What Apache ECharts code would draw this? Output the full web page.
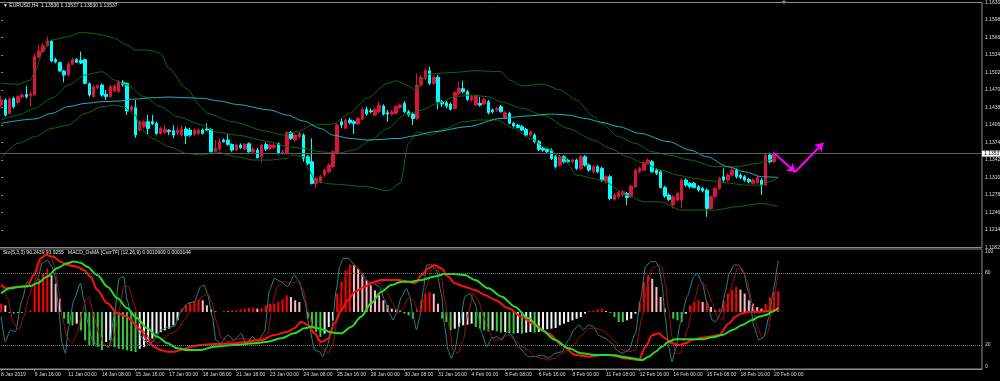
<!DOCTYPE html>
<html><head><meta charset="utf-8">
<script src="https://cdn.jsdelivr.net/npm/echarts/dist/echarts.min.js"></script>
<style>html,body{margin:0;padding:0;background:#000;overflow:hidden}#c{width:1000px;height:381px}</style>
</head><body><div id="c"></div>
<script>
// ---------- DATA (EURUSD H4) ----------
const opens = [1.14425,1.14517,1.14273,1.14547,1.14474,1.14571,1.14620,1.14596,1.14608,1.15303,
1.15401,1.15511,1.15596,1.15255,1.15200,1.15047,1.14974,1.15169,1.15261,1.15242,
1.15255,1.14815,1.14578,1.14742,1.14791,1.14620,1.14578,1.14681,1.14669,1.14840,
1.14822,1.14334,1.14376,1.13968,1.14029,1.14120,1.14120,1.14090,1.13907,1.13925,
1.13961,1.13955,1.13919,1.13876,1.13986,1.13968,1.13888,1.13907,1.13968,1.13986,
1.13980,1.13583,1.13620,1.13785,1.13785,1.13705,1.13602,1.13693,1.13620,1.13717,
1.13571,1.13602,1.13480,1.13705,1.13632,1.13644,1.13717,1.13541,1.13541,1.13925,
1.13785,1.13846,1.13876,1.13480,1.13388,1.12992,1.13022,1.13144,1.13205,1.13297,
1.13541,1.14120,1.13998,1.14151,1.14120,1.14077,1.14163,1.14346,1.14321,1.14242,
1.14303,1.14407,1.14285,1.14260,1.14273,1.14382,1.14455,1.14303,1.14260,1.14181,
1.14791,1.14913,1.15053,1.14822,1.14931,1.14486,1.14468,1.14443,1.14364,1.14639,
1.14724,1.14669,1.14517,1.14425,1.14455,1.14443,1.14486,1.14334,1.14334,1.14395,
1.14181,1.14273,1.14090,1.14059,1.14029,1.13980,1.13876,1.13876,1.13754,1.13632,
1.13614,1.13602,1.13480,1.13327,1.13480,1.13419,1.13388,1.13419,1.13266,1.13480,
1.13327,1.13205,1.13297,1.13266,1.13022,1.13114,1.12699,1.12748,1.12778,1.12809,
1.12748,1.12931,1.13205,1.13236,1.13358,1.13388,1.13236,1.13205,1.12918,1.12778,
1.12595,1.12687,1.12687,1.13053,1.12992,1.12992,1.12931,1.12900,1.12870,1.12534,
1.12748,1.12900,1.13114,1.13053,1.13144,1.13236,1.13144,1.13114,1.13065,1.12992,
1.13004,1.13053,1.12961,1.13510,1.13388,1.13536];
const highs = [1.14596,1.14547,1.14578,1.14578,1.14608,1.14639,1.14779,1.14669,1.15371,1.15523,
1.15553,1.15676,1.15614,1.15291,1.15218,1.15066,1.15218,1.15291,1.15279,1.15401,
1.15279,1.14840,1.14791,1.14803,1.14822,1.14700,1.14791,1.14803,1.14883,1.14883,
1.14840,1.14425,1.14517,1.14151,1.14145,1.14242,1.14242,1.14120,1.14029,1.14059,
1.13986,1.14059,1.14029,1.14059,1.14029,1.14010,1.13998,1.13998,1.13998,1.14090,
1.13998,1.13785,1.13815,1.13815,1.13888,1.13724,1.13724,1.13724,1.13730,1.13742,
1.13663,1.13644,1.13724,1.13742,1.13724,1.13724,1.13742,1.13602,1.13949,1.13949,
1.13907,1.13937,1.13907,1.13510,1.13815,1.13114,1.13144,1.13266,1.13358,1.13602,
1.14090,1.14181,1.14181,1.14193,1.14151,1.14212,1.14376,1.14395,1.14364,1.14376,
1.14486,1.14437,1.14334,1.14334,1.14425,1.14455,1.14498,1.14334,1.14291,1.15005,
1.14974,1.15096,1.15126,1.14974,1.14974,1.14517,1.14498,1.14474,1.14681,1.14852,
1.14870,1.14700,1.14608,1.14620,1.14578,1.14559,1.14517,1.14364,1.14395,1.14425,
1.14315,1.14303,1.14120,1.14083,1.14059,1.14010,1.13968,1.13907,1.13785,1.13663,
1.13644,1.13632,1.13510,1.13510,1.13510,1.13449,1.13449,1.13449,1.13510,1.13510,
1.13358,1.13327,1.13327,1.13297,1.13144,1.13144,1.12809,1.12851,1.12870,1.12839,
1.12973,1.13266,1.13297,1.13401,1.13449,1.13419,1.13266,1.13236,1.12949,1.12809,
1.12778,1.12839,1.13083,1.13083,1.13022,1.13022,1.12961,1.12931,1.12900,1.12778,
1.12931,1.13114,1.13266,1.13175,1.13266,1.13266,1.13175,1.13144,1.13095,1.13083,
1.13132,1.13083,1.13541,1.13553,1.13571,1.13537];
const lows = [1.14395,1.14212,1.14254,1.14364,1.14425,1.14547,1.14547,1.14395,1.14596,1.15279,
1.15371,1.15492,1.15206,1.15188,1.15035,1.14840,1.14944,1.15157,1.15194,1.15175,
1.14803,1.14578,1.14559,1.14718,1.14578,1.14517,1.14559,1.14657,1.14651,1.14760,
1.14242,1.14303,1.13827,1.13937,1.13998,1.13888,1.14059,1.13876,1.13876,1.13903,
1.13876,1.13815,1.13876,1.13846,1.13711,1.13846,1.13864,1.13876,1.13888,1.13949,
1.13541,1.13559,1.13583,1.13742,1.13681,1.13571,1.13583,1.13620,1.13602,1.13553,
1.13541,1.13449,1.13376,1.13583,1.13602,1.13620,1.13521,1.13510,1.13521,1.13785,
1.13754,1.13815,1.13388,1.13327,1.12973,1.12900,1.12992,1.13114,1.13175,1.13278,
1.13521,1.13998,1.13986,1.14071,1.13894,1.14059,1.14145,1.14230,1.14273,1.14224,
1.14273,1.14230,1.14120,1.14230,1.14254,1.14352,1.14273,1.14212,1.14059,1.14151,
1.14760,1.14883,1.14791,1.14791,1.14346,1.14395,1.14364,1.14327,1.14346,1.14608,
1.14639,1.14498,1.14486,1.14407,1.14395,1.14425,1.14254,1.14273,1.14303,1.14285,
1.14163,1.14071,1.14016,1.13998,1.13949,1.13846,1.13846,1.13724,1.13583,1.13571,
1.13541,1.13419,1.13266,1.13297,1.13358,1.13358,1.13358,1.13236,1.13236,1.13297,
1.13205,1.13175,1.13175,1.13022,1.12992,1.12687,1.12669,1.12717,1.12748,1.12595,
1.12729,1.12913,1.13175,1.13217,1.13339,1.13187,1.13144,1.12900,1.12729,1.12669,
1.12534,1.12669,1.12546,1.12931,1.12900,1.12900,1.12839,1.12827,1.12382,1.12504,
1.12717,1.12870,1.13022,1.13022,1.13114,1.13083,1.13071,1.13022,1.12992,1.12973,
1.12985,1.12778,1.12943,1.13358,1.13370,1.13530];
const closes = [1.14517,1.14242,1.14535,1.14395,1.14578,1.14608,1.14578,1.14626,1.15310,1.15413,
1.15511,1.15596,1.15230,1.15218,1.15047,1.14974,1.15169,1.15255,1.15206,1.15194,
1.14822,1.14608,1.14760,1.14779,1.14608,1.14578,1.14760,1.14773,1.14852,1.14803,
1.14315,1.14395,1.13876,1.14120,1.14120,1.13998,1.14083,1.13907,1.13998,1.13986,
1.13937,1.13876,1.13968,1.13986,1.13864,1.13876,1.13968,1.13968,1.13907,1.13968,
1.13571,1.13632,1.13761,1.13754,1.13705,1.13602,1.13693,1.13644,1.13705,1.13571,
1.13620,1.13461,1.13693,1.13620,1.13693,1.13693,1.13541,1.13571,1.13925,1.13815,
1.13876,1.13907,1.13449,1.13358,1.12992,1.13083,1.13114,1.13236,1.13327,1.13571,
1.14059,1.14059,1.14151,1.14102,1.14090,1.14181,1.14346,1.14260,1.14303,1.14346,
1.14425,1.14260,1.14260,1.14303,1.14395,1.14425,1.14303,1.14242,1.14181,1.14791,
1.14931,1.15053,1.14822,1.14931,1.14486,1.14443,1.14407,1.14346,1.14651,1.14730,
1.14669,1.14529,1.14578,1.14590,1.14425,1.14529,1.14285,1.14303,1.14364,1.14303,
1.14285,1.14090,1.14041,1.14016,1.13968,1.13876,1.13937,1.13754,1.13614,1.13602,
1.13571,1.13449,1.13297,1.13480,1.13388,1.13388,1.13419,1.13266,1.13480,1.13327,
1.13236,1.13297,1.13205,1.13053,1.13114,1.12717,1.12778,1.12821,1.12839,1.12735,
1.12943,1.13236,1.13266,1.13370,1.13419,1.13205,1.13175,1.12918,1.12760,1.12699,
1.12748,1.12809,1.13053,1.12961,1.12931,1.12918,1.12870,1.12857,1.12534,1.12748,
1.12900,1.13083,1.13053,1.13144,1.13236,1.13114,1.13102,1.13053,1.13022,1.13053,
1.13102,1.12961,1.13510,1.13388,1.13536,1.13537];

// indicator lines, [bar, value]
const bbUpper = [[0,1.14822],[4,1.14803],[7,1.14883],[8,1.15035],[10,1.15401],[12,1.15614],[16,1.15676],[19,1.15755],[22,1.15737],[24,1.15706],[27,1.15645],[30,1.15523],[32,1.15432],[35,1.15432],[38,1.15371],[40,1.15096],[44,1.14730],[48,1.14364],[49,1.14273],[55,1.14120],[63,1.13949],[67,1.13876],[71,1.13949],[74,1.14059],[79,1.14077],[83,1.14273],[87,1.14547],[92,1.14822],[94,1.14870],[97,1.14773],[99,1.14669],[100,1.14883],[102,1.14992],[107,1.15017],[113,1.15053],[119,1.15035],[121,1.14883],[124,1.14773],[129,1.14809],[133,1.14700],[137,1.14517],[141,1.14212],[143,1.14090],[147,1.13846],[151,1.13724],[155,1.13571],[159,1.13510],[164,1.13419],[170,1.13297],[175,1.13297],[180,1.13358],[183,1.13419],[185,1.13541]];
const bbMiddle = [[0,1.14151],[4,1.14242],[8,1.14364],[12,1.14547],[16,1.14791],[20,1.14974],[24,1.15035],[27,1.14883],[30,1.14791],[34,1.14578],[38,1.14395],[42,1.14212],[48,1.14059],[51,1.13937],[56,1.13876],[64,1.13754],[68,1.13663],[72,1.13632],[76,1.13571],[80,1.13541],[84,1.13602],[88,1.13785],[92,1.13998],[96,1.14242],[100,1.14334],[104,1.14455],[108,1.14578],[112,1.14608],[116,1.14578],[119,1.14486],[124,1.14364],[129,1.14242],[135,1.13998],[141,1.13785],[145,1.13632],[149,1.13480],[153,1.13358],[157,1.13236],[161,1.13144],[165,1.13083],[169,1.13040],[173,1.12998],[177,1.12961],[181,1.12961],[183,1.13022],[185,1.13095]];
const bbLower = [[0,1.13449],[4,1.13724],[8,1.13846],[12,1.13998],[16,1.14059],[20,1.14273],[24,1.14395],[27,1.14425],[29,1.14395],[32,1.14242],[33,1.13998],[36,1.13815],[40,1.13663],[44,1.13541],[48,1.13510],[51,1.13571],[56,1.13480],[60,1.13419],[64,1.13419],[68,1.13449],[69,1.13510],[72,1.13480],[73,1.13266],[75,1.13022],[79,1.12979],[87,1.12931],[92,1.12857],[95,1.12992],[97,1.13724],[99,1.13937],[102,1.13876],[106,1.13998],[110,1.14120],[114,1.14151],[118,1.14151],[122,1.13998],[126,1.13815],[130,1.13632],[134,1.13449],[137,1.13144],[143,1.13053],[149,1.12778],[153,1.12656],[157,1.12656],[162,1.12504],[170,1.12504],[175,1.12565],[181,1.12626],[185,1.12565]];
const maLine = [[0,1.14090],[8,1.14169],[12,1.14273],[16,1.14395],[20,1.14455],[24,1.14486],[28,1.14498],[32,1.14535],[36,1.14559],[40,1.14571],[44,1.14559],[48,1.14547],[52,1.14498],[56,1.14437],[64,1.14334],[68,1.14242],[72,1.14132],[76,1.13998],[79,1.13876],[83,1.13815],[87,1.13785],[95,1.13815],[98,1.13858],[103,1.13937],[111,1.14029],[119,1.14181],[125,1.14224],[131,1.14260],[135,1.14242],[139,1.14181],[143,1.14108],[147,1.14029],[152,1.13907],[159,1.13754],[164,1.13602],[168,1.13480],[173,1.13297],[177,1.13205],[181,1.13114],[185,1.13102]];

// MACD_OsMA histogram, one value per bar
const osma = [0.000125,0.0001,-0.000015,-0.000025,-0.00001,-0.000015,0.00001,0.000025,0.0004,0.0005,
0.000575,0.00065,0.00055,0.000425,0.0002,-0.0001,-0.000175,-0.0002,-0.000175,-0.000275,
-0.000425,-0.0005,-0.0005,-0.000525,-0.000575,-0.00045,-0.000425,-0.000525,-0.00055,-0.00056,
-0.000575,-0.00059,-0.0006,-0.00055,-0.000525,-0.00045,-0.0004,-0.000325,-0.0003,-0.000275,
-0.00025,-0.0002,-0.000125,0.00005,0.0001,0.00014,0.00016,0.00019,0.000175,0.0001,
0.00004,0.00001,0,0.000015,0.00001,0.000025,0.000025,0.00004,0.00005,0.00006,
0.00007,0.00005,0.00006,0.0001,0.000125,0.000125,0.00015,0.00019,0.00025,0.000225,
0.000175,0.00015,0,-0.0001,-0.000225,-0.0003,-0.000375,-0.000325,-0.000225,-0.000125,
0.000275,0.00045,0.000625,0.000715,0.0007,0.00065,0.000575,0.000475,0.0004,0.000325,
0.00025,0.000175,0.0001,0.00005,0.000035,0.000025,-0.000025,-0.00005,-0.0001,0.00005,
0.000175,0.000275,0.0003,0.000275,0.000125,-0.0001,-0.00015,-0.000275,-0.00025,-0.000225,
-0.0002,-0.00019,-0.000175,-0.000225,-0.00025,-0.000275,-0.00029,-0.000275,-0.00029,-0.00031,
-0.0003,-0.000315,-0.000325,-0.000315,-0.000325,-0.00031,-0.0003,-0.00031,-0.0003,-0.00029,
-0.00026,-0.00025,-0.00024,-0.0002,-0.000175,-0.00015,-0.000125,-0.0001,-0.000075,-0.000025,
0.000015,0.000025,0.00004,0.00005,0.000015,-0.000015,-0.000075,-0.00015,-0.00015,-0.000125,
-0.0001,-0.000025,0.00015,0.00045,0.00055,0.0005,0.000375,0.000225,0.00005,0,
-0.0001,-0.000125,-0.00015,-0.000025,0.0001,0.00015,0.000175,0.00015,0.00015,0.000075,
0.000025,0.00005,0.000175,0.000275,0.000325,0.000375,0.000335,0.000275,0.000175,0.000125,
0.000075,0.00005,0.000125,0.000225,0.0003,0.000314];

const stochMain = [[0,43.6],[1,22.8],[2.2,32.5],[3.4,31.1],[5,57.5],[6.2,72.8],[7.4,68.6],[8.6,74.2],[9.8,88.1],[11,90.8],[12.1,85.3],[12.9,76.9],[13.7,49.2],[14.5,21.4],[15.3,13.1],[16.1,35.3],[17.3,57.5],[18.9,71.4],[19.7,57.5],[20.7,38.1],[21.7,24.2],[22.9,20],[24.5,20],[25.7,18.6],[26.9,43.6],[28.1,75.6],[29.2,76.9],[30,57.5],[31.2,40.8],[32.4,32.5],[34,24.2],[35.2,20],[36.4,24.2],[38,32.5],[39.6,34.7],[41.2,35.3],[42.8,47.8],[44.4,54.7],[46,56.1],[47.5,68.6],[48.3,70],[49.1,63.1],[50.3,43.6],[51.1,24.2],[52.3,21.4],[53.9,28.3],[55.5,24.2],[57.1,29.7],[58.3,21.4],[59.9,26.9],[61.1,22.8],[62.7,31.1],[63.9,65.8],[65.1,75.6],[66.6,72.8],[68.2,68.6],[69.8,78.3],[71,72.8],[72.2,57.5],[73.4,35.3],[74.6,15.8],[75.8,14.4],[76.6,10.3],[77.4,17.2],[78.6,30],[79.8,65.8],[80.6,85.3],[81.4,92.2],[82.6,92.2],[83.8,88.1],[84.9,83.9],[86.1,78.3],[87.3,72.8],[88.5,71.4],[90.1,68.6],[91.3,57.5],[92.5,46.4],[93.3,40.8],[94.1,46.4],[95.3,60.3],[96.5,67.2],[97.3,60.3],[98.1,43.6],[98.9,32.5],[99.7,43.6],[100.5,65.8],[101.3,86.7],[102.5,86.7],[103.6,82.5],[104.8,63.1],[105.6,35.3],[106.4,15.8],[107.2,8.9],[108,15.8],[109.2,38.1],[110.4,60.3],[111.6,63.1],[112.8,54.7],[113.6,43.6],[114.4,29.7],[115.6,18.6],[116.8,25.6],[118,26.9],[119.2,24.2],[120.4,31.1],[121.5,28.3],[123.1,18.6],[125.5,10.3],[127.1,10.3],[128.7,11.7],[130.3,8.9],[131.9,13.1],[133.5,14.4],[135.1,24.2],[136.3,32.5],[137.5,36.7],[138.6,32.5],[139.8,36.7],[141,35.3],[142.2,28.3],[143.8,25.6],[145.4,21.4],[146.6,15.8],[147.8,13.1],[149.4,15.8],[151,29.7],[152.2,57.5],[153.4,85.3],[154.6,89.5],[155.8,89.5],[156.6,85.3],[157.3,71.4],[158.1,43.6],[158.9,18.6],[159.7,6.1],[160.5,15.8],[161.7,38.1],[163.3,60.3],[164.9,76.9],[165.7,79.7],[166.9,71.4],[168.1,54.7],[169.3,40.8],[170.1,39.4],[171.3,46.4],[172.5,65.8],[173.3,79.7],[174.5,86.7],[175.6,86.7],[176.8,79.7],[178,63.1],[179.2,35.3],[180.4,24.2],[181.6,26.9],[182.8,43.6],[184,68.6],[184.8,85.3],[185,90.2]];
const stochSignal = [[0,71.4],[1.4,60.3],[3,38.1],[4.2,32.5],[5.4,43.6],[6.6,60.3],[7.8,71.4],[9,83.9],[9.8,93.6],[11,95],[12.1,92.2],[12.9,82.5],[13.7,65.8],[14.5,43.6],[15.7,26.9],[16.9,21.4],[18.1,29.7],[19.3,46.4],[20.1,57.5],[20.9,60.3],[22.1,43.6],[23.3,29.7],[24.5,21.4],[25.7,17.2],[26.9,26.9],[28.1,49.2],[29.2,68.6],[30.4,68.6],[31.6,54.7],[32.8,39.4],[34,31.1],[35.6,24.2],[37.2,21.4],[38.8,25.6],[40.4,29.7],[42,32.5],[43.6,40.8],[45.2,49.2],[46.7,54.7],[47.9,60.3],[49.1,63.1],[50.3,54.7],[51.1,40.8],[52.3,26.9],[53.9,22.8],[57.1,25.6],[60.3,24.2],[61.9,25.6],[63.5,29.7],[64.6,54.7],[65.8,68.6],[67.4,72.8],[69,71.4],[70.6,72.8],[71.8,67.2],[73,49.2],[74.6,29.7],[76.2,18.6],[77.8,13.1],[79,21.4],[80.2,46.4],[81.4,71.4],[82.6,82.5],[83.8,86.7],[84.9,83.9],[86.5,75.6],[88.1,71.4],[90.1,71.4],[91.7,64.4],[93.3,54.7],[94.5,46.4],[95.7,50.6],[96.9,58.9],[98.1,57.5],[99.3,47.8],[100.1,49.2],[101.3,68.6],[102.5,82.5],[103.6,85.3],[104.8,77],[105.6,57.5],[106.8,32.5],[107.6,15.8],[108.8,13.1],[110,24.2],[111.2,46.4],[112.4,63.1],[113.6,57.5],[114.8,43.6],[116,32.5],[117.2,24.2],[118.4,24.2],[119.6,26.9],[120.7,28.3],[122.3,24.2],[123.9,18.6],[125.5,15.8],[127.1,10.3],[128.7,8.9],[130.3,7.5],[131.9,8.9],[133.5,13.1],[135.1,15.8],[136.7,21.4],[138.2,28.3],[139.8,33.9],[141.4,33.9],[143,32.5],[144.6,28.3],[146.2,22.8],[147.8,15.8],[149.4,14.4],[151,15.8],[152.6,43.6],[153.8,68.6],[155,83.9],[156.6,86.7],[157.3,85.3],[158.1,71.4],[158.9,49.2],[159.7,26.9],[160.5,13.1],[161.7,13.1],[163.3,32.5],[164.9,54.7],[166.1,70],[166.9,72.8],[168.1,65.8],[169.3,54.7],[170.5,43.6],[171.7,40.8],[172.9,54.7],[174.1,71.4],[175.3,83.9],[176.4,83.9],[177.6,74.2],[178.8,54.7],[180,35.3],[181.2,25.6],[182.4,29.7],[183.6,51.4],[184.8,74.2],[185,80]];
const macdRed = [[0,70],[1.4,67.2],[3.8,68.6],[6.2,68.6],[7.8,78.3],[9.4,92.2],[10.6,95],[12.5,93.6],[14.1,89.5],[15.7,86.7],[18.1,85.3],[19.7,82.5],[21.3,77],[22.9,65.8],[25.3,54.7],[27.7,46.4],[30,43.6],[31.6,38.1],[33.2,32.5],[34.8,24.2],[36.4,18.6],[38,15.8],[39.6,14.4],[41.2,14.4],[42.8,15.8],[45.2,18.6],[47.5,20],[50.7,20.8],[55.5,21.4],[58.7,22.8],[61.9,24.2],[65,28.3],[68.2,31.1],[69.8,33.9],[71.4,39.4],[73,36.7],[74.6,29.7],[76.2,22.5],[77.8,25],[79.4,38.1],[81,49.2],[82.6,57.5],[84.2,64.4],[86.5,68.6],[88.9,72.8],[90.5,74.2],[94.5,74.2],[96.9,72.8],[98.5,71.4],[100.1,78.3],[101.7,83.9],[103.2,86.7],[104.8,83.9],[106.4,77],[108,71.4],[110.4,68.6],[112.8,65.8],[115.2,61.7],[117.6,57.5],[120.8,50.6],[123.9,43.6],[127.1,36.7],[130.3,29.7],[133.5,20],[136.7,11.7],[139.8,10.3],[143,11.7],[146.2,11.7],[148,9],[151.8,7.5],[153.4,18.6],[155,28.3],[156.6,29.7],[158.1,25.6],[159.7,21.4],[161.3,20],[162.9,21.4],[164.5,24.2],[166.1,25.6],[168.5,26.9],[170.9,28.3],[173.3,38.1],[174.8,43.6],[176.4,46.4],[178,47.8],[181.2,47.8],[184.4,49.2],[185,47.8]];
const macdGreen = [[0,63.1],[2.2,67.2],[4.6,68.6],[7,69.2],[8.6,71.4],[11,77],[13.3,83.9],[15.7,88.1],[17.3,89.5],[18.9,88.6],[20.5,85.3],[22.9,78.3],[25.3,68.6],[27.7,58.9],[30,50.6],[32.4,42.2],[34.8,33.9],[37.2,26.9],[39.6,21.4],[42,17.2],[44.4,15.8],[47.5,15.8],[50.7,18.6],[55.5,20],[60.3,21.4],[63.5,22.8],[66.6,25.6],[69.8,29.7],[72.2,33.9],[73.8,35.3],[75.4,33.9],[77,32.5],[78.6,30.4],[81,29.7],[83.4,35.3],[85.7,43.6],[88.1,54.7],[90.5,64.4],[92.9,70],[95.3,72.8],[97.7,72.8],[100.1,74.2],[103.2,77],[105.6,79.2],[108,79.2],[110.4,78.3],[112.8,74.2],[116,67.2],[119.2,60.3],[122.3,51.9],[125.5,42.2],[128.7,32.5],[131.9,24.2],[135.1,17.2],[138.2,13.1],[141.4,11.7],[144.6,11.7],[147.8,10.3],[150.2,8.9],[152.6,7.5],[154.2,10.3],[155.8,14.4],[157.3,18.6],[158.9,22.8],[160.5,24.7],[163.7,24.7],[166.9,24.7],[169.3,26.4],[171.7,28.3],[174.1,32.5],[176.4,36.7],[178.8,40.8],[180.4,43.6],[182,45],[183.6,47.8],[185,51]];

// magenta projection arrow (bar, price)
const arrowBars = [184, 189, 195.7];
const arrowPrices = [1.13548, 1.13201, 1.13731];

const bidPrice = 1.13537;
const priceTicks = {min: 1.1182, max: 1.1630, step: 0.0032};
const stochLevels = [80, 20];
const tickBars = [0,8,16,24,32,40,48,56,64,72,80,88,96,104,112,120,128,136,144,152,160,168,176,184];
const tickLabels = ['8 Jan 2019','9 Jan 16:00','11 Jan 00:00','14 Jan 08:00','15 Jan 16:00','17 Jan 00:00','18 Jan 08:00','21 Jan 16:00','23 Jan 00:00','24 Jan 08:00','25 Jan 16:00','29 Jan 00:00','30 Jan 08:00','31 Jan 16:00','4 Feb 00:00','5 Feb 08:00','6 Feb 16:00','8 Feb 00:00','11 Feb 08:00','12 Feb 16:00','14 Feb 00:00','15 Feb 08:00','18 Feb 16:00','20 Feb 00:00'];
const headerText = '\u25BC EURUSD,H4  1.13536 1.13537 1.13530 1.13537';
const subText = 'Sto(5,3,3) 90.2439 93.9255   MACD_OsMA [CurrTF] (12,26,9) 0.0010609 0.0003144';

// ---------- CHART ----------
const SLOTS = 234; // bars + right-side chart shift space
const cats = []; for (let i = 0; i < SLOTS; i++) cats.push(String(i));
const labelAt = {}; tickBars.forEach((b, k) => labelAt[b] = tickLabels[k]);
const FONT = 'Liberation Sans';
const TXT = '#d8d8d8';
const FRAME = '#8c8c8c';

const candleData = opens.map((o, i) => [o, closes[i], lows[i], highs[i]]);
const histData = osma.map((v, i) => {
  const p = i > 0 ? osma[i - 1] : v;
  let c;
  if (v >= 0) c = v >= p ? '#ff0000' : '#ffb6c1';
  else c = v <= p ? '#3cc83c' : '#f2f2f2';
  return {value: v, itemStyle: {color: c}};
});

function line(data, color, width, xi, yi, smooth) {
  return {type: 'line', data, xAxisIndex: xi, yAxisIndex: yi, showSymbol: false, symbol: 'none',
    smooth: smooth, smoothMonotone: 'x', silent: true, lineStyle: {color, width}, z: 3};
}

const chart = echarts.init(document.getElementById('c'), null, {renderer: 'canvas', width: 1000, height: 381});
chart.setOption({
  animation: false,
  backgroundColor: '#000000',
  title: [
    {text: headerText, left: 3, top: 3.5, padding: 0, textStyle: {fontSize: 5, color: '#e8e8e8', fontWeight: 'normal', fontFamily: FONT}},
    {text: subText, left: 3, top: 250.5, padding: 0, textStyle: {fontSize: 5, color: '#e8e8e8', fontWeight: 'normal', fontFamily: FONT}},
    {text: '\u25BC', left: 782, top: 0.5, padding: 0, textStyle: {fontSize: 5, color: '#8a8a8a', fontWeight: 'normal', fontFamily: 'DejaVu Sans'}}
  ],
  grid: [
    {left: -1, top: 2.5, width: 983, height: 245, show: true, borderColor: FRAME, borderWidth: 1, backgroundColor: '#000', containLabel: false, outerBoundsMode: 'none'},
    {left: -1, top: 249, width: 983, height: 120, show: true, borderColor: FRAME, borderWidth: 1, backgroundColor: '#000', containLabel: false, outerBoundsMode: 'none'}
  ],
  xAxis: [
    {type: 'category', gridIndex: 0, data: cats, boundaryGap: true, axisLine: {show: false}, axisTick: {show: false}, axisLabel: {show: false}, splitLine: {show: false}},
    {type: 'value', gridIndex: 0, min: -0.5, max: SLOTS - 0.5, show: false, splitLine: {show: false}},
    {type: 'category', gridIndex: 1, data: cats, boundaryGap: true, position: 'bottom',
      axisLine: {show: true, lineStyle: {color: FRAME, width: 1}},
      axisTick: {show: true, alignWithLabel: true, length: 2, interval: (i) => labelAt[i] !== undefined, lineStyle: {color: FRAME}},
      axisLabel: {show: true, interval: (i) => labelAt[i] !== undefined, formatter: (v, i) => labelAt[i] || '', align: 'left', margin: 3, fontSize: 5, color: TXT, fontFamily: FONT, hideOverlap: false},
      splitLine: {show: false}},
    {type: 'value', gridIndex: 1, min: -0.5, max: SLOTS - 0.5, show: false, splitLine: {show: false}}
  ],
  yAxis: [
    {type: 'value', gridIndex: 0, position: 'right', min: priceTicks.min, max: priceTicks.max, interval: priceTicks.step,
      axisLine: {show: false}, splitLine: {show: false},
      axisTick: {show: true, length: 2, lineStyle: {color: FRAME}},
      axisLabel: {show: true, margin: 3, fontSize: 5, color: TXT, fontFamily: FONT, formatter: (v) => v.toFixed(5)}},
    {type: 'value', gridIndex: 1, position: 'right', min: 0, max: 100, interval: 20,
      axisLine: {show: false}, splitLine: {show: false}, axisTick: {show: false},
      axisLabel: {show: true, margin: 3, fontSize: 5, color: TXT, fontFamily: FONT,
        formatter: (v) => v === 100 ? '{t|100}' : v === 0 ? '{b|0}' : (v === 20 || v === 80) ? String(v) : '',
        rich: {t: {fontSize: 5, color: TXT, fontFamily: FONT, padding: [5, 0, 0, 0]}, b: {fontSize: 5, color: TXT, fontFamily: FONT, padding: [0, 0, 4, 0]}}}},
    {type: 'value', gridIndex: 1, min: -0.000855, max: 0.000945, show: false, splitLine: {show: false}}
  ],
  series: [
    {type: 'candlestick', name: 'EURUSD', xAxisIndex: 0, yAxisIndex: 0, data: candleData, barWidth: 3, silent: true, z: 2,
      itemStyle: {color: '#dc143c', color0: '#00ffff', borderColor: '#dc143c', borderColor0: '#00ffff', borderWidth: 1}},
    Object.assign(line(bbUpper, '#0a6a0a', 1, 1, 0, 0.25), {
      markLine: {silent: true, symbol: 'none', animation: false, precision: 5,
        lineStyle: {color: '#5c5c5c', type: 'solid', width: 1},
        label: {show: true, position: 'end', distance: 0, formatter: bidPrice.toFixed(5), backgroundColor: '#ffffff', color: '#000000', fontSize: 5, fontFamily: FONT, padding: [0.5, 2, 0.5, 2]},
        data: [{yAxis: bidPrice}]}}),
    line(bbMiddle, '#0a6a0a', 1, 1, 0, 0.25),
    line(bbLower, '#0a6a0a', 1, 1, 0, 0.25),
    line(maLine, '#19b3c6', 1, 1, 0, 0.3),
    {type: 'lines', coordinateSystem: 'cartesian2d', xAxisIndex: 1, yAxisIndex: 0, polyline: false, silent: true, z: 5,
      symbol: ['none', 'arrow'], symbolSize: 8,
      lineStyle: {color: '#ff00ff', width: 2, opacity: 1, curveness: 0},
      data: [
        {coords: [[arrowBars[0], arrowPrices[0]], [arrowBars[1], arrowPrices[1]]]},
        {coords: [[arrowBars[1], arrowPrices[1]], [arrowBars[2], arrowPrices[2]]]}
      ]},
    {type: 'bar', xAxisIndex: 2, yAxisIndex: 2, data: histData, barWidth: 2, silent: true, z: 2},
    Object.assign(line(stochMain, '#2b8585', 1, 3, 1, 0.2), {
      markLine: {silent: true, symbol: 'none', label: {show: false}, lineStyle: {color: '#7a7a7a', type: 'dotted', width: 1},
        data: stochLevels.map(v => ({yAxis: v}))}}),
    line(stochSignal, '#a01010', 1, 3, 1, 0.2),
    line(macdRed, '#ff1010', 2, 3, 1, 0.3),
    line(macdGreen, '#22dd22', 2, 3, 1, 0.3)
  ]
});
</script>
</body></html>
